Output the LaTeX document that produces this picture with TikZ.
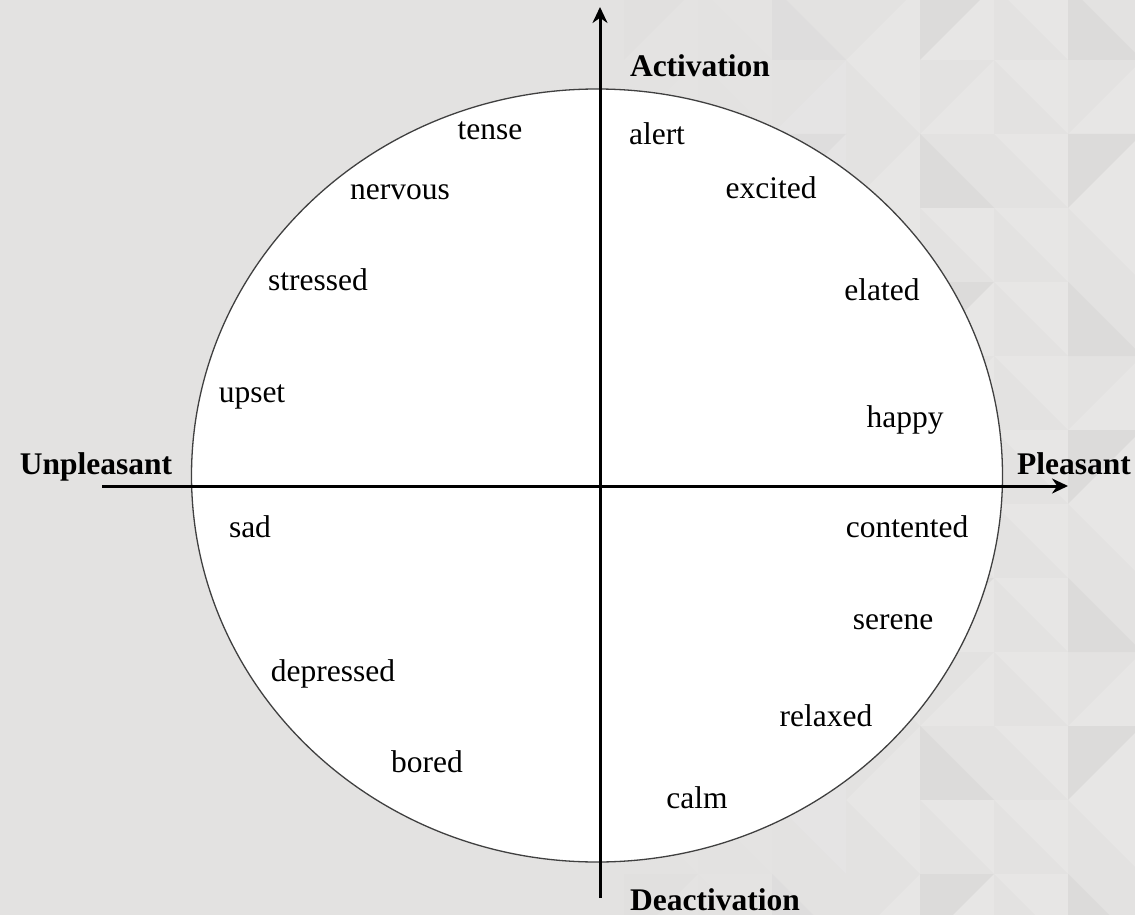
\documentclass[tikz,border=0pt]{standalone}
\usepackage{fontspec}
\setmainfont{Liberation Serif}
\usetikzlibrary{arrows.meta}
\definecolor{bg}{HTML}{E3E2E1}
\definecolor{triA}{HTML}{DCDBDA}
\definecolor{triB}{HTML}{E7E6E5}
\begin{document}
\begin{tikzpicture}[x=1pt,y=-1pt,
  word/.style={anchor=mid, font=\fontsize{31.5}{36}\selectfont, inner sep=0pt, yshift=-7pt},
  axlabel/.style={anchor=mid, font=\fontsize{31.5}{36}\selectfont\bfseries, inner sep=0pt, yshift=-7pt},
  axisline/.style={line width=3pt, black, -{Stealth[length=16pt,width=15pt]}}]
\fill[bg] (0,0) rectangle (1135,915);
\useasboundingbox (0,0) rectangle (1135,915);
% subtle triangle pattern
\foreach \i in {0,...,6}{
  \foreach \j in {0,...,12}{
    \pgfmathsetmacro{\xx}{624+74*\i}
    \pgfmathsetmacro{\yy}{-14+74*\j}
    \pgfmathtruncatemacro{\s}{mod(\i*5+\j*3+\i*\j,4)}
    \pgfmathtruncatemacro{\op}{\i<2 ? 35 : (\i<3 ? 65 : 100)}
    \ifcase\s
      \fill[triA!\op!bg] (\xx,\yy) -- (\xx+74,\yy) -- (\xx,\yy+74) -- cycle;
      \fill[triB!\op!bg] (\xx+74,\yy+74) -- (\xx+74,\yy) -- (\xx,\yy+74) -- cycle;
    \or
      \fill[triB!\op!bg] (\xx,\yy) -- (\xx+74,\yy) -- (\xx+74,\yy+74) -- cycle;
    \or
      \fill[triA!\op!bg] (\xx,\yy) -- (\xx,\yy+74) -- (\xx+74,\yy+74) -- cycle;
    \or
      \fill[triB!\op!bg] (\xx+74,\yy) -- (\xx+74,\yy+74) -- (\xx,\yy+74) -- cycle;
    \fi
  }
}
% circle
\draw[line width=1.3pt, draw=black!75, fill=white] (597,475.5) ellipse [x radius=405.5, y radius=386.5];
% axes
\coordinate (W) at (102,486);
\coordinate (E) at (1068,486);
\coordinate (S) at (600,898);
\coordinate (N) at (600,7);
\draw[axisline] (W) -- (E);
\draw[axisline] (S) -- (N);
% axis labels
\node[axlabel] (act) at (700,67) {Activation};
\node[axlabel] (deact) at (715,901) {Deactivation};
\node[axlabel] (unp) at (96,465) {Unpleasant};
\node[axlabel] (ple) at (1074,465) {Pleasant};
% words
\node[word] (tense) at (490,130) {tense};
\node[word] (nervous) at (400,190) {nervous};
\node[word] (stressed) at (318,281) {stressed};
\node[word] (upset) at (252,393) {upset};
\node[word] (sad) at (250,528) {sad};
\node[word] (depressed) at (333,672) {depressed};
\node[word] (bored) at (427,763) {bored};
\node[word] (alert) at (657,135) {alert};
\node[word] (excited) at (771,189) {excited};
\node[word] (elated) at (882,291) {elated};
\node[word] (happy) at (905,418) {happy};
\node[word] (contented) at (907,528) {contented};
\node[word] (serene) at (893,620) {serene};
\node[word] (relaxed) at (826,717) {relaxed};
\node[word] (calm) at (697,799) {calm};
\end{tikzpicture}
\end{document}
